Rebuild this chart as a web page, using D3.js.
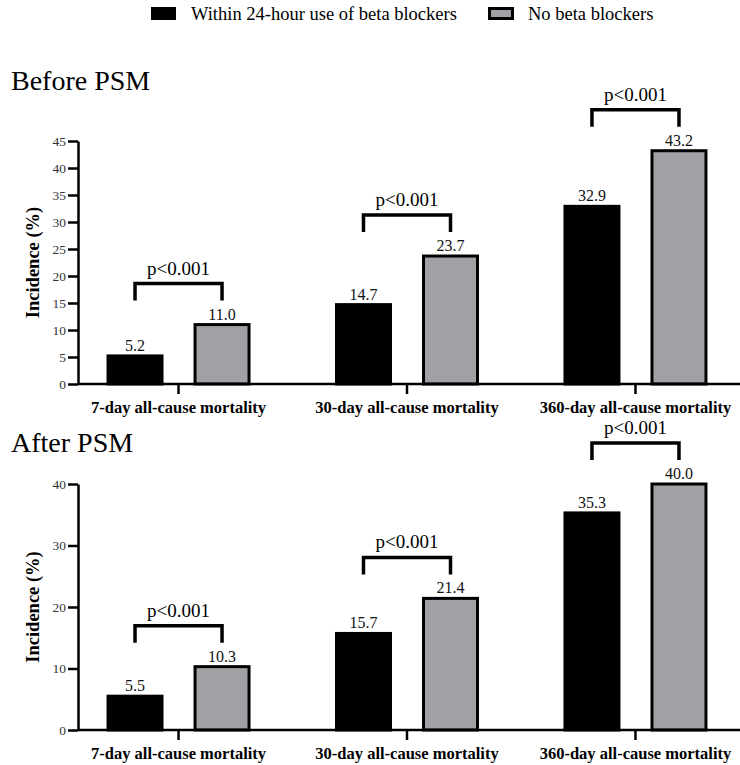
<!DOCTYPE html>
<html>
<head>
<meta charset="utf-8">
<script src="https://cdn.jsdelivr.net/npm/d3@7"></script>
<style>
  body { margin: 0; background: #fff; }
  svg, svg text { font-family: "Liberation Serif", "DejaVu Serif", serif; }
</style>
</head>
<body>
<div id="chart"></div>
<script>
const categories = ["7-day all-cause mortality", "30-day all-cause mortality", "360-day all-cause mortality"];
const series = ["Within 24-hour use of beta blockers", "No beta blockers"];
const beforeBB = [5.2, 14.7, 32.9];
const beforeNoBB = [11.0, 23.7, 43.2];
const afterBB = [5.5, 15.7, 35.3];
const afterNoBB = [10.3, 21.4, 40.0];
const beforeTicks = [0, 5, 10, 15, 20, 25, 30, 35, 40, 45];
const afterTicks = [0, 10, 20, 30, 40];
const pLabel = "p<0.001";

const width = 740, height = 765;
const serifFont = "\"Liberation Serif\", \"DejaVu Serif\", serif";
const colors = { [series[0]]: "#000", [series[1]]: "#a1a1a5" };

const svg = d3.select("#chart").append("svg")
  .attr("width", width)
  .attr("height", height)
  .attr("font-family", serifFont);

// Legend
const legend = svg.append("g");
legend.append("rect").attr("x", 151).attr("y", 7).attr("width", 25).attr("height", 13)
  .attr("fill", "#000");
legend.append("text").attr("x", 191).attr("y", 20).attr("font-size", "18.5px").text(series[0]);
legend.append("rect").attr("x", 489.5).attr("y", 8.5).attr("width", 23).attr("height", 10)
  .attr("fill", colors[series[1]]).attr("stroke", "#000").attr("stroke-width", 3);
legend.append("text").attr("x", 528).attr("y", 20).attr("font-size", "18.5px").text(series[1]);

const x0 = d3.scaleBand().domain(categories).range([78, 736]).paddingInner(0.12).paddingOuter(0);
const bw = x0.bandwidth();
const x1 = d3.scaleBand().domain(series).range([bw / 2 - 72, bw / 2 + 72]).paddingInner(0.345);

function panel(title, titleY, bb, noBB, ticks, yMax, yBottom, yTop) {
  const g = svg.append("g");
  const y = d3.scaleLinear().domain([0, yMax]).range([yBottom, yTop]);

  g.append("text").attr("x", 11).attr("y", titleY).attr("font-size", "28px").text(title);

  const rows = categories.map((c, i) => ({ cat: c, vals: [bb[i], noBB[i]] }));

  const grp = g.selectAll(".grp").data(rows).enter().append("g")
    .attr("transform", d => `translate(${x0(d.cat)},0)`);

  grp.selectAll("rect")
    .data(d => series.map((s, j) => ({ s, v: d.vals[j] })))
    .enter().append("rect")
    .attr("x", d => x1(d.s) + 1.5)
    .attr("width", x1.bandwidth() - 3)
    .attr("y", d => y(d.v))
    .attr("height", d => y(0) - y(d.v))
    .attr("fill", d => colors[d.s])
    .attr("stroke", "#000")
    .attr("stroke-width", 3);

  grp.selectAll(".val")
    .data(d => series.map((s, j) => ({ s, v: d.vals[j] })))
    .enter().append("text")
    .attr("x", d => x1(d.s) + x1.bandwidth() / 2)
    .attr("y", d => y(d.v) - 5)
    .attr("text-anchor", "middle")
    .attr("font-size", "16px")
    .attr("fill", "#111")
    .text(d => d3.format(".1f")(d.v));

  // significance brackets
  grp.each(function(d) {
    const top = y(d3.max(d.vals)) - 24;
    const xa = x1(series[0]) + x1.bandwidth() / 2;
    const xb = x1(series[1]) + x1.bandwidth() / 2;
    d3.select(this).append("path")
      .attr("d", `M${xa},${top} V${top - 17} H${xb} V${top}`)
      .attr("fill", "none").attr("stroke", "#000").attr("stroke-width", 3.5);
    d3.select(this).append("text")
      .attr("x", (xa + xb) / 2).attr("y", top - 26)
      .attr("text-anchor", "middle").attr("font-size", "19px")
      .text(pLabel);
  });

  // y axis
  const ya = g.append("g").attr("transform", "translate(78,0)")
    .call(d3.axisLeft(y).tickValues(ticks).tickSize(10).tickSizeOuter(0).tickPadding(2));
  ya.attr("font-family", serifFont);
  ya.select(".domain").attr("stroke-width", 2.5);
  ya.selectAll(".tick line").attr("stroke-width", 2.5);
  ya.selectAll(".tick text").attr("font-size", "13.5px").attr("fill", "#333");

  // x axis
  const xa = g.append("g").attr("transform", `translate(0,${yBottom})`)
    .call(d3.axisBottom(x0).tickSize(10).tickSizeOuter(0).tickPadding(7));
  xa.attr("font-family", serifFont);
  xa.select(".domain").remove();
  xa.selectAll(".tick line").attr("stroke-width", 2.5);
  xa.selectAll(".tick text").attr("font-size", "16.5px").attr("font-weight", "bold")
    .attr("fill", "#000");
  g.append("line").attr("x1", 78).attr("x2", 740).attr("y1", yBottom).attr("y2", yBottom)
    .attr("stroke", "#000").attr("stroke-width", 2.5);

  g.append("text")
    .attr("transform", `translate(39,${(yBottom + yTop) / 2}) rotate(-90)`)
    .attr("text-anchor", "middle")
    .attr("font-size", "18.5px").attr("font-weight", "bold")
    .text("Incidence (%)");
}

panel("Before PSM", 90, beforeBB, beforeNoBB, beforeTicks, 45, 384, 141);
panel("After PSM", 452, afterBB, afterNoBB, afterTicks, 40, 730, 484);
</script>
</body>
</html>
